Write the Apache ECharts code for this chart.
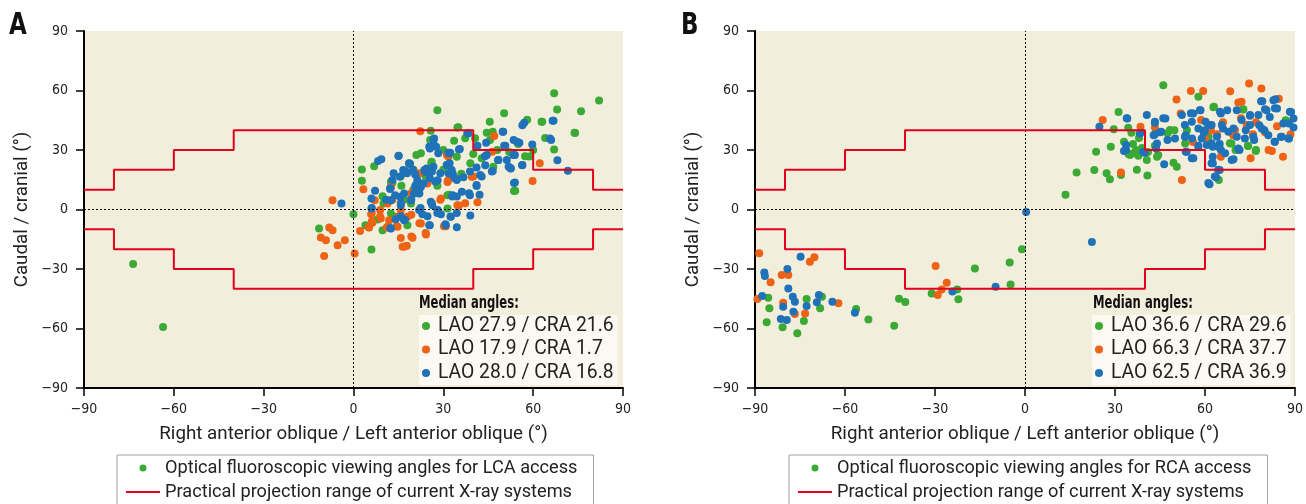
<!DOCTYPE html>
<html><head><meta charset="utf-8">
<script src="https://cdn.jsdelivr.net/npm/echarts@6/dist/echarts.min.js"></script>
<style>html,body{margin:0;padding:0;background:#fff}#c{width:1306px;height:504px}</style>
</head><body><div id="c"></div>
<script>
// ---------- data ----------
const tickValues = [-90, -60, -30, 0, 30, 60, 90];
const rangeEdges = [-90, -80, -60, -40, 40, 60, 80, 90];
const rangeLevels = [10, 20, 30, 40, 30, 20, 10];

const lcaMedianNames = ['LAO 27.9 / CRA 21.6', 'LAO 17.9 / CRA 1.7', 'LAO 28.0 / CRA 16.8'];
const rcaMedianNames = ['LAO 36.6 / CRA 29.6', 'LAO 66.3 / CRA 37.7', 'LAO 62.5 / CRA 36.9'];
const lcaLegendName = 'Optical fluoroscopic viewing angles for LCA access';
const rcaLegendName = 'Optical fluoroscopic viewing angles for RCA access';
const rangeName = 'Practical projection range of current X-ray systems';
const medianTitle = 'Median angles:';
const panelLabels = ['A', 'B'];

const lcaGreen = [[82,55],[67,58.6],[68,50.4],[76,49.5],[63,44.3],[58,45.2],[50.3,48.5],[45.5,44.3],[74,38.6],[67,30.3],[58.7,26.7],[57.3,26.9],[54,9.4],[28,50],[25.8,39.7],[35,41.5],[26,23.5],[21,27.5],[22.5,28.4],[2.8,20.2],[2.8,14.5],[6.9,21.8],[0,-2.4],[-11.5,-9.6],[6,-20.2],[45.6,35],[46.5,39.2],[44.5,38.7],[32,7.5],[31.4,0.5],[13,13.5],[18.5,23.2],[37.3,35.9],[40.6,35.9],[42.8,25.8],[39,23.3],[46.7,21.5],[12.7,13.2],[26.1,24.1],[34.5,26.6],[33.6,34.7],[25.6,35],[34.7,41.4],[9.7,-10.4],[9.7,6.7],[12.5,-2],[14.1,-3.7],[15.8,16.8],[31.4,7.2],[12.5,14],[19.2,3],[-73.6,-27.5],[-63.6,-59.2],[62.8,44.3],[73.8,38.7],[53.6,9.3],[20,10],[24,17],[17,5],[28,12],[10,3],[16,12],[30,20],[36,18],[40,28],[48,30],[52,29],[55,33],[60,30],[64,36],[30,30],[20,20],[8,-5],[18,-8],[4,-8]];

const lcaOrange = [[22.3,39.5],[47,37],[46.3,29.1],[62.2,23.3],[59.8,14.4],[41.4,3.7],[40,16.6],[37.3,3.2],[35.2,2],[31.7,26.6],[31.7,14.9],[29,4.9],[26.2,3.2],[30.2,-8.5],[24.1,-11.9],[22,-6.9],[19.3,-2.7],[19.3,-13.6],[15.8,-14.4],[17.2,-18.6],[22,18.3],[20.6,10.7],[12.3,10.7],[13,4.9],[15.1,-3.5],[8.9,-3.5],[8.9,-0.2],[6.1,-1.8],[6.1,-6],[5.1,-9],[11.6,-8.5],[14.4,-8.5],[3.3,10.2],[-7,4.7],[-8.1,-9.1],[-7,-10.4],[-10.9,-14.1],[-9.2,-15.5],[-5.3,-18],[-2.9,-15.5],[-9.8,-23.5],[0.4,-22.2],[2.2,-10.8],[5.2,-9.1],[6.3,-6.7],[9.1,-4.5],[11.9,-5.4],[11.1,-9.1],[16.4,-18.8],[17.8,-18.3],[19.7,-14.3],[24.2,-12.6],[7.1,4.7],[5.9,-2.4],[12.5,11.4],[14.7,-8.7],[15.8,-0.3],[19.2,8.1],[24.7,13.1],[29.2,5.5],[31.4,13.9],[22.5,-7.1],[30.8,-8.4],[34.7,2.2],[18,-3.7],[11.4,3],[31.2,27.5],[39.5,16.5]];

const lcaBlue = [[66.8,44.7],[57,43.7],[56.4,42.5],[71.6,19.6],[68.1,24.8],[65.6,35.8],[66,35],[59.7,32.8],[54.6,34.2],[50,39.2],[50.7,32.2],[53.9,27.5],[56.4,22.4],[52.5,20.8],[53.9,13.6],[48.3,25],[46.5,19.4],[44.5,27.5],[41.4,32.2],[38.4,38.4],[35.5,30.5],[42.8,16.6],[41.1,12.4],[42.1,7.4],[39,-3],[38.6,8.2],[34.5,6.5],[33,6.5],[34.5,-9],[32.4,-3.5],[30.7,-7.4],[28,-1.8],[25.5,-8],[22.4,0.7],[26.9,35.8],[27.6,31.7],[25.5,30.8],[28.3,28.3],[32.1,28.3],[32.1,23.3],[31.7,18.3],[33.1,17.4],[34.5,14.9],[23.7,19.9],[26.2,19.1],[29,18.3],[25.5,15.7],[27.3,14.1],[23.4,13.2],[21.3,14.9],[17.9,18.3],[18.6,23.3],[15.1,27.1],[8.2,24.5],[9.3,25.3],[13.4,18.3],[13,14.9],[12.3,10.7],[10.9,4.9],[7.2,9.5],[6.1,0.7],[12.3,-9.4],[17.2,-5.2],[15.8,3.2],[19.3,4.9],[20.6,11.6],[22,8.2],[-4,3],[34.5,-1.8],[6,5.5],[6,0.5],[15,27],[12.2,10.3],[12.5,4.7],[15.8,2.2],[15.6,6.4],[13.9,7.2],[16.9,8.1],[18.9,22.9],[17.3,19.5],[20.6,17.6],[23.9,19],[25.8,19],[26.7,21.5],[28.1,14.8],[31.4,22.4],[33.1,18.2],[25.3,31.6],[26.9,32.4],[32.3,28.6],[22.5,11.4],[21.9,8.1],[20.8,12.3],[25.8,3.9],[26.3,2.2],[28.1,-0.3],[29.2,-2.4],[24.7,-3.4],[25.3,-7.9],[23,-2.4],[21.9,-0.3],[19.2,4.7],[15.8,-3.4],[14.1,-4.9],[16.9,-5.4],[12.5,-9.6],[30.8,-7.9],[32.5,-3.7],[33.1,7.2],[38,38.4],[49.8,39.2],[44.3,33.7],[50.3,32.1],[26.7,35.1],[31.7,28.6],[35.2,30.3],[43.9,26.9],[48.4,25],[51.8,21.5],[41.1,21.2],[46.2,19.1],[42.3,17.4],[38.9,19.1],[36.7,16.2],[33.9,15.7],[32.8,19.9],[31.1,22.4],[16.6,19.9],[19.9,19.9],[24.4,20.7],[15.5,16.5],[20.2,8.1],[36.2,8.9],[38.9,7.2],[41.1,11.9],[66.5,44.8],[53.5,35],[55.4,33.7],[51.2,24.9],[53.4,27.5],[52.5,20.7],[56.3,22.3],[44,22.3],[53.6,13.4]];

const rcaGreen = [[46.1,62.6],[57.8,56.8],[63,51.8],[72.6,50.4],[31.2,49.2],[29.6,40.4],[34.4,41.2],[35.5,38.7],[23.7,29.1],[28.6,31.7],[17.2,18.6],[23.1,19.9],[27.2,18.3],[28.3,15.2],[32,17.4],[37.3,20.1],[40.8,17.2],[13.5,7.4],[-1,-20],[33,34.2],[34.5,28],[37.8,27.1],[40.6,25],[44,26.6],[47.5,38.4],[49.8,40],[49.5,23.6],[50.6,21.6],[53.4,33.3],[61.2,36.7],[68.8,33.3],[70.2,30],[74.3,32],[77,30],[64.6,14.9],[86.9,45],[43.3,32.2],[36.1,28.3],[35,27.5],[44.4,27.5],[48.3,40.1],[54,40],[68.3,33.4],[74.4,32.2],[76.9,29.5],[62.8,51.5],[72.8,50.6],[36,33],[38,36],[39,31],[41,29],[37,30],[-85.6,-44.5],[-85.2,-49.8],[-86.1,-56.9],[-80.8,-59.4],[-75.9,-62.4],[-73.7,-56.2],[-72.8,-45.1],[-68.3,-49.8],[-67.7,-44],[-56.3,-50.2],[-52.2,-55.4],[-43.6,-58.6],[-42,-45],[-39.9,-46.7],[-31.1,-42.3],[-22.6,-40.3],[-22.2,-45.3],[-16.7,-29.7],[-5.1,-26.7],[-4.8,-37.8]];

const rcaOrange = [[25.9,45.1],[50.5,55.4],[55.3,59.8],[59.4,59.8],[68.4,59.6],[74.7,63.5],[78.8,61],[72.2,54.3],[71.1,54],[84.6,55.9],[38.5,41.7],[43.3,41.4],[51.9,48.4],[32,18.6],[52.3,14.9],[65.3,26.6],[75.2,25.8],[81.2,30],[82.3,29.5],[86,26.6],[88.5,38],[58.7,45.1],[73.9,42.6],[69.4,37.5],[62,40],[66,44],[70,40],[77,44],[80,39],[84,42],[60,36],[72,46],[64,38],[76,38],[56,34],[-88.6,-22.1],[-71.7,-26.3],[-70.2,-24.1],[-81.1,-33],[-78.9,-33],[-84.8,-36.7],[-89.2,-45.1],[-80.6,-47],[-73.3,-52.4],[-76.7,-52.7],[-62.2,-47.3],[-29.8,-28.5],[-26.1,-36.9],[-27.8,-40.3],[-29.1,-43.1]];

const rcaBlue = [[24.8,41.7],[34.1,45.9],[40.6,47.6],[38.5,38.7],[33.7,30],[39.9,28.6],[43.3,43.7],[43.3,37.9],[44,33.3],[45.4,39.2],[46.8,45.9],[47.5,35],[50,35.8],[46.4,22.8],[52.3,47.6],[56.1,48.4],[58.5,50.1],[60.2,44.2],[53.6,37.5],[55.7,35.8],[53.6,29.1],[56.1,25.8],[57.8,32.2],[59.6,38.7],[61.2,42.5],[64,36.7],[64.9,33],[65.3,30],[66,40.9],[62.6,31.7],[62.6,26.6],[62.6,23.3],[64.9,19.9],[63.7,16.2],[61.5,12.7],[65.3,48.4],[67.4,50.1],[69.5,40.9],[69.5,25.3],[71.5,30],[72.2,45.1],[73.6,40],[75,47.6],[76.4,35],[79.1,54.6],[80.5,50.1],[78.1,42.5],[79.8,40],[81.6,46.7],[83.5,55.6],[84,50.9],[83.2,34.2],[85.3,36.7],[88,35.8],[88.7,49.2],[89.5,45.9],[89.5,41.4],[88,43.4],[0.4,-1.3],[22.3,-16.4],[33.9,46],[43.3,44.2],[46.1,46],[33.7,32.5],[33,29.5],[38.3,38.3],[39.4,29.1],[42.9,37.5],[45,38.9],[53.3,42.6],[53.3,36.7],[53.9,29.1],[43.7,30.8],[58.3,50.1],[55.3,48.5],[65,49.3],[70.6,50.1],[78.7,54.6],[82.8,55.1],[80,50.5],[83.3,51],[75,47.3],[77.8,47.6],[88.3,49.3],[87.8,35.8],[85.6,36.7],[83.3,34.2],[81.1,37.5],[78.9,40.9],[75,42.6],[73.3,35.8],[70.6,36.7],[67.8,39.2],[65.6,42.6],[62.2,42.6],[60,40],[57.8,40.9],[55.6,44.3],[58.9,35.8],[60.6,32.5],[62.2,33.4],[64.4,31.7],[66.7,28.3],[68.9,24.9],[71.1,30.8],[76.1,36.7],[57.8,31.7],[55.6,25.8],[62.2,23.3],[64.4,20],[63.3,16.6],[61.1,13.3],[86.1,43.4],[-74.8,-23.8],[-79.2,-30],[-86.9,-31.8],[-86.7,-33.5],[-78.9,-39.8],[-87.6,-43.6],[-77.4,-44],[-76.7,-46.5],[-68.7,-43.1],[-69.4,-46.8],[-72.8,-48.7],[-80.6,-49],[-77.2,-51.5],[-81.4,-55.2],[-79.4,-55.7],[-64.2,-46.5],[-56.7,-52],[-24.2,-41.4],[-9.8,-38.9]];

// ---------- styles ----------
const GREEN = '#3aaa35', ORANGE = '#ee6215', BLUE = '#1f72b8', RED = '#e2001a';
const NARROW = '"Liberation Sans Narrow", "DejaVu Sans Condensed", sans-serif';
const TEXT = 'Roboto, "Noto Sans", sans-serif';
const BG = '#f2eedc';

function rangePts(sign) {
  const pts = [];
  for (let i = 0; i < rangeLevels.length; i++) {
    pts.push([rangeEdges[i], sign * rangeLevels[i]], [rangeEdges[i + 1], sign * rangeLevels[i]]);
  }
  return pts;
}
const fmt = v => v < 0 ? '\u2212' + Math.abs(v) : String(v);

function axis(idx, name, isX) {
  return {
    type: 'value', gridIndex: idx, min: -90, max: 90, interval: 30,
    name: name, nameLocation: 'middle', nameGap: isX ? 37 : 52,
    nameTextStyle: { fontFamily: TEXT, fontSize: 18.8, color: '#222' },
    axisLine: { show: true, onZero: false, lineStyle: { color: '#000', width: 2 } },
    axisTick: { show: true, length: 8, lineStyle: { color: '#000', width: 1.5 } },
    axisLabel: { fontFamily: NARROW, fontSize: 14, color: '#222', margin: isX ? 14 : 16, formatter: fmt },
    splitLine: { show: false }
  };
}

function scatter(name, data, color, idx, extra) {
  return Object.assign({
    type: 'scatter', name: name, data: data, xAxisIndex: idx, yAxisIndex: idx,
    symbolSize: 8, itemStyle: { color: color, opacity: 1 }, z: 3
  }, extra || {});
}
const zeroLines = {
  silent: true, symbol: 'none', label: { show: false },
  lineStyle: { color: '#000', type: [2, 2], width: 1 },
  data: [{ xAxis: 0 }, { yAxis: 0 }]
};
function rangeSeries(idx, sign) {
  return {
    type: 'line', name: rangeName, data: rangePts(sign), xAxisIndex: idx, yAxisIndex: idx,
    showSymbol: false, symbol: 'none', lineStyle: { color: RED, width: 2 }, itemStyle: { color: RED }, z: 5
  };
}
function medianLegend(left, names) {
  return {
    orient: 'vertical', left: left, top: 315, height: 80, data: names, selectedMode: false,
    icon: 'circle', itemWidth: 14, itemHeight: 8, itemGap: 3.5,
    padding: [1, 4, 2, 3], backgroundColor: '#fbf9f2',
    textStyle: { fontFamily: TEXT, fontSize: 19.3, lineHeight: 20, color: '#222' }
  };
}
function bottomLegend(left, dotName) {
  return {
    orient: 'vertical', left: left, top: 455, height: 80, selectedMode: false,
    data: [{ name: dotName, icon: 'circle' }, { name: rangeName, icon: 'path://M0,0H31V2H0Z' }],
    itemWidth: 34, itemHeight: 7, itemGap: 0,
    padding: [1, 16, 20, 9], borderColor: '#a0a0a0', borderWidth: 1,
    textStyle: { fontFamily: TEXT, fontSize: 18.2, lineHeight: 24, color: '#222' }
  };
}
function panelLabel(text, x) {
  return { type: 'text', left: x, top: 11, z: 10,
    style: { text: text, font: 'bold 30px ' + NARROW, fill: '#111' }, scaleX: 0.85 };
}
function medianHead(x) {
  return { type: 'text', x: x, y: 304, z: 10, scaleX: 0.76,
    style: { text: medianTitle, font: 'bold 17px ' + NARROW, fill: '#111', verticalAlign: 'middle' } };
}

const option = {
  animation: false,
  graphic: [panelLabel(panelLabels[0], 9), panelLabel(panelLabels[1], 681), medianHead(419), medianHead(1093)],
  grid: [
    { left: 84, top: 31, width: 539, height: 357, show: true, backgroundColor: BG, borderWidth: 0 },
    { left: 755, top: 31, width: 540, height: 357, show: true, backgroundColor: BG, borderWidth: 0 }
  ],
  xAxis: [axis(0, 'Right anterior oblique / Left anterior oblique (°)', true),
          axis(1, 'Right anterior oblique / Left anterior oblique (°)', true)],
  yAxis: [axis(0, 'Caudal / cranial (°)', false), axis(1, 'Caudal / cranial (°)', false)],
  legend: [medianLegend(419, lcaMedianNames), medianLegend(1092, rcaMedianNames),
           bottomLegend(117, lcaLegendName), bottomLegend(789, rcaLegendName)],
  series: [
    scatter(lcaMedianNames[0], lcaGreen, GREEN, 0, { markLine: zeroLines }),
    scatter(lcaMedianNames[1], lcaOrange, ORANGE, 0),
    scatter(lcaMedianNames[2], lcaBlue, BLUE, 0),
    scatter(lcaLegendName, [], GREEN, 0),
    rangeSeries(0, 1), rangeSeries(0, -1),
    scatter(rcaMedianNames[0], rcaGreen, GREEN, 1, { markLine: zeroLines }),
    scatter(rcaMedianNames[1], rcaOrange, ORANGE, 1),
    scatter(rcaMedianNames[2], rcaBlue, BLUE, 1),
    scatter(rcaLegendName, [], GREEN, 1),
    rangeSeries(1, 1), rangeSeries(1, -1)
  ]
};
echarts.init(document.getElementById('c'), null, { renderer: 'canvas' }).setOption(option);
</script></body></html>
